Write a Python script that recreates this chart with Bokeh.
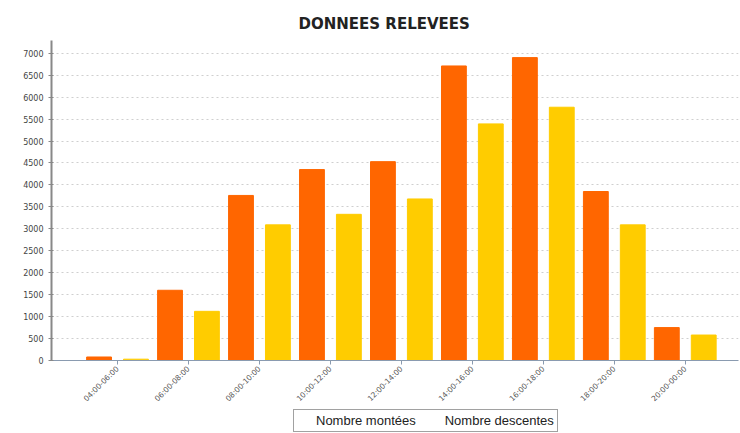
import math
from bokeh.plotting import figure
from bokeh.layouts import column
from bokeh.models import ColumnDataSource, FixedTicker, Legend, LegendItem, Range1d, Title
from bokeh.embed import file_html
from bokeh.resources import INLINE

categories = ["04:00-06:00", "06:00-08:00", "08:00-10:00", "10:00-12:00", "12:00-14:00",
              "14:00-16:00", "16:00-18:00", "18:00-20:00", "20:00-00:00"]
montees = [80, 1600, 3760, 4350, 4530, 6710, 6900, 3850, 750]
descentes = [30, 1120, 3090, 3330, 3680, 5390, 5770, 3090, 580]
series_names = ["Nombre montées", "Nombre descentes"]
y_ticks = list(range(0, 7001, 500))

ORANGE = "#FF6600"
YELLOW = "#FFCC00"

xs = list(range(len(categories)))
src = ColumnDataSource(dict(
    x_m=[i - 0.26 for i in xs], x_d=[i + 0.26 for i in xs],
    montees=montees, descentes=descentes))

p = figure(width=740, height=409, output_backend="svg", toolbar_location=None,
           x_range=Range1d(-0.93, 8.75), y_range=Range1d(0, 7290),
           min_border_left=51, min_border_right=2, min_border_top=40, min_border_bottom=0)
p.title = None
p.add_layout(Title(text="DONNEES RELEVEES", align="left", text_font="DejaVu Sans",
                   text_font_size="15px", text_font_style="bold", text_color="#222222",
                   offset=247, standoff=16), "above")

p.vbar(x="x_m", top="montees", width=0.35, source=src, color=ORANGE)
p.vbar(x="x_d", top="descentes", width=0.35, source=src, color=YELLOW)

p.outline_line_color = None
p.background_fill_color = "white"
p.border_fill_color = "white"

p.xgrid.grid_line_color = None
p.ygrid.grid_line_color = "#cfcfcf"
p.ygrid.grid_line_dash = "2 3"
p.yaxis.axis_label = None
p.yaxis.ticker = FixedTicker(ticks=y_ticks)
p.yaxis.minor_tick_line_color = None
p.yaxis.major_label_text_font = "DejaVu Sans"
p.yaxis.major_label_text_font_size = "8px"
p.yaxis.major_label_text_color = "#444444"
p.yaxis.axis_line_color = "#888888"
p.yaxis.axis_line_width = 2
p.yaxis.major_tick_line_color = "#888888"
p.yaxis.major_tick_in = 2
p.yaxis.major_tick_out = 3

p.xaxis.axis_label = None
p.xaxis.ticker = FixedTicker(ticks=xs)
p.xaxis.major_label_overrides = {i: c for i, c in enumerate(categories)}
p.xaxis.major_label_orientation = math.pi / 4
p.xaxis.major_label_standoff = 3
p.xaxis.major_label_text_font = "DejaVu Sans"
p.xaxis.major_label_text_font_size = "7.5px"
p.xaxis.major_label_text_color = "#555555"
p.xaxis.axis_line_color = "#8a9bb0"
p.xaxis.major_tick_line_color = "#8a9bb0"
p.xaxis.major_tick_in = 0
p.xaxis.major_tick_out = 4
p.xaxis.minor_tick_line_color = None

# legend-only strip below the chart
q = figure(width=740, height=24, output_backend="svg", toolbar_location=None,
           x_axis_type=None, y_axis_type=None, min_border=0,
           x_range=Range1d(0, 1), y_range=Range1d(0, 1))
q.outline_line_color = None
q.xgrid.grid_line_color = None
q.ygrid.grid_line_color = None
lr1 = q.vbar(x=[], top=[], width=0.35, color=ORANGE)
lr2 = q.vbar(x=[], top=[], width=0.35, color=YELLOW)

legend = Legend(items=[LegendItem(label=series_names[0], renderers=[lr1]),
                       LegendItem(label=series_names[1], renderers=[lr2])],
                orientation="horizontal", location=(242, 1),
                border_line_color="#444444", border_line_width=1,
                label_text_font="Liberation Sans", label_text_font_size="13px",
                label_text_color="#222222",
                glyph_width=13, glyph_height=13, spacing=10, padding=3, margin=0,
                label_standoff=6)
q.add_layout(legend, "center")

layout = column(p, q, spacing=0)
open("out.html", "w").write(file_html(layout, INLINE))
